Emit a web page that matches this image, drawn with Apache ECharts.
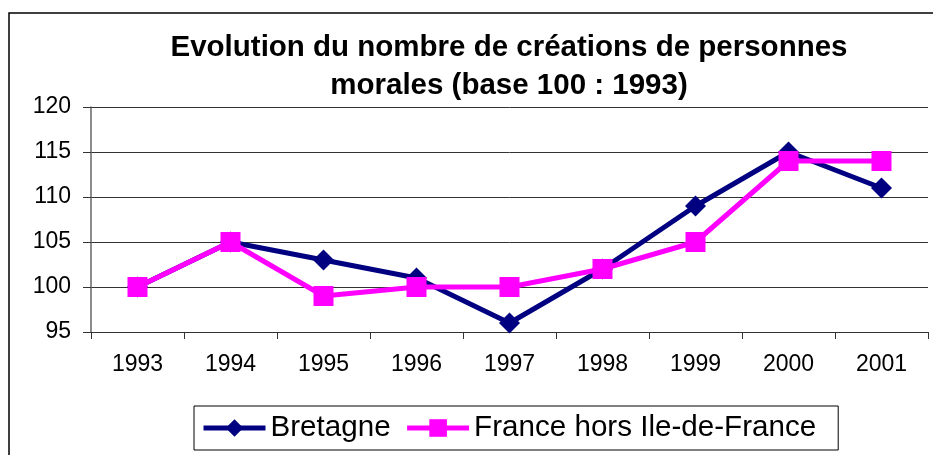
<!DOCTYPE html>
<html>
<head>
<meta charset="utf-8">
<script src="https://cdn.jsdelivr.net/npm/echarts@6/dist/echarts.min.js"></script>
<style>html,body{margin:0;padding:0;background:#fff}#c{width:933px;height:455px}</style>
</head>
<body>
<div id="c"></div>
<script>
const categories = ['1993','1994','1995','1996','1997','1998','1999','2000','2001'];
const bretagne = [100,105,103,101,96,102,109,115,111];
const franceHorsIdf = [100,105,99,100,100,102,105,114,114];
const seriesNames = ['Bretagne','France hors Ile-de-France'];
const titleText = 'Evolution du nombre de créations de personnes\nmorales (base 100 : 1993)';

const chart = echarts.init(document.getElementById('c'), null, {renderer:'canvas'});
const font = 'Liberation Sans, Arial, sans-serif';
chart.setOption({
  animation: false,
  backgroundColor: '#fff',
  graphic: [{
    type: 'rect', shape: {x: 9, y: 13, width: 960, height: 480},
    style: {fill: 'none', stroke: '#000', lineWidth: 1.5}, z: -1
  }],
  title: {
    text: titleText,
    left: 504, top: 24, textAlign: 'center',
    textStyle: {fontFamily: font, fontSize: 29.5, fontWeight: 'bold', color: '#000', lineHeight: 38}
  },
  grid: {left: 91, right: 5, top: 107, bottom: 123},
  legend: {
    data: seriesNames,
    left: 194, top: 406,
    padding: [7, 22, 7, 7],
    borderColor: '#000', borderWidth: 1,
    itemWidth: 62, itemHeight: 22, itemGap: 14,
    lineStyle: {width: 5},
    textStyle: {fontFamily: font, fontSize: 29.6, color: '#000', padding: [0,0,0,0]}
  },
  xAxis: {
    type: 'category', data: categories, boundaryGap: true,
    axisLine: {lineStyle: {color: '#333', width: 1}},
    axisTick: {show: true, length: 7, lineStyle: {color: '#333'}},
    axisLabel: {fontFamily: font, fontSize: 23, color: '#000', margin: 21},
    splitLine: {show: false}
  },
  yAxis: {
    type: 'value', min: 95, max: 120, interval: 5,
    axisLine: {show: true, lineStyle: {color: '#666', width: 1.5}},
    axisTick: {show: true, length: 8, lineStyle: {color: '#333'}},
    axisLabel: {fontFamily: font, fontSize: 23, color: '#000', margin: 20},
    splitLine: {show: true, lineStyle: {color: '#333', width: 1}}
  },
  series: [
    {
      name: seriesNames[0], type: 'line', data: bretagne,
      symbol: 'diamond', symbolSize: 21,
      lineStyle: {color: '#000080', width: 5},
      itemStyle: {color: '#000080'}, z: 2
    },
    {
      name: seriesNames[1], type: 'line', data: franceHorsIdf,
      symbol: 'rect', symbolSize: 20,
      lineStyle: {color: '#FF00FF', width: 5},
      itemStyle: {color: '#FF00FF'}, z: 3
    }
  ]
});
</script>
</body>
</html>
